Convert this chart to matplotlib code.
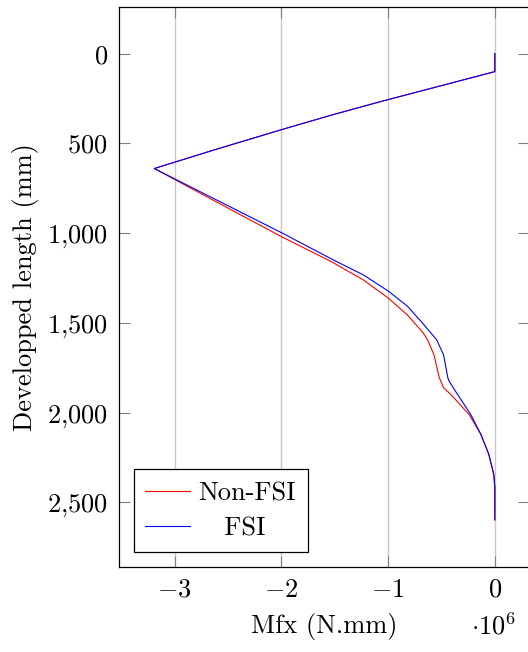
import matplotlib
matplotlib.use('Agg')
import matplotlib.pyplot as plt
from matplotlib.ticker import FixedLocator, FixedFormatter

plt.rcParams['font.family'] = 'serif'
plt.rcParams['font.serif'] = ['cmr10']
plt.rcParams['mathtext.fontset'] = 'cm'
plt.rcParams['axes.unicode_minus'] = False

# Mfx (x 1e6 N.mm) against developped length (mm)
nonfsi_x = [0, 0, -1.07, -1.54, -1.99, -2.6, -3.19, -2.29, -1.99, -1.54, -1.23, -1.0,
            -0.82, -0.67, -0.63, -0.57, -0.52, -0.48, -0.41, -0.24, -0.13, -0.056,
            -0.01, 0, 0]
nonfsi_y = [0, 100, 267, 344, 422, 531, 640, 927, 1022, 1156, 1261, 1361,
            1455, 1556, 1594, 1678, 1806, 1861, 1900, 2011, 2122, 2233,
            2344, 2417, 2600]

fsi_x = [0, 0, -1.07, -1.54, -1.99, -2.6, -3.19, -2.29, -1.99, -1.51, -1.23, -1.0,
         -0.82, -0.67, -0.545, -0.48, -0.44, -0.43, -0.39, -0.225, -0.13, -0.056,
         -0.01, 0, 0]
fsi_y = [0, 100, 267, 344, 422, 531, 640, 910, 1000, 1150, 1233, 1322,
         1406, 1506, 1594, 1678, 1806, 1822, 1861, 2011, 2122, 2233,
         2344, 2417, 2594]

xticks = [-3, -2, -1, 0]
xlabels = ['$-3$', '$-2$', '$-1$', '$0$']
yticks = [0, 500, 1000, 1500, 2000, 2500]
ylabels = ['$0$', '$500$', '$1{,}000$', '$1{,}500$', '$2{,}000$', '$2{,}500$']

fig = plt.figure(figsize=(5.28, 6.52), dpi=100)
ax = fig.add_axes([119 / 528, 1 - 567 / 652, 410 / 528, 560 / 652])

ax.plot(nonfsi_x, nonfsi_y, color='red', lw=0.8, label='Non-FSI')
ax.plot(fsi_x, fsi_y, color='blue', lw=0.8, label='   FSI')

ax.set_xlim(-3.52, 0.32)
ax.set_ylim(2860, -260)

ax.xaxis.set_major_locator(FixedLocator(xticks))
ax.xaxis.set_major_formatter(FixedFormatter(xlabels))
ax.yaxis.set_major_locator(FixedLocator(yticks))
ax.yaxis.set_major_formatter(FixedFormatter(ylabels))

ax.grid(axis='x', color='#c8c8c8', lw=1)
ax.tick_params(direction='in', length=8, width=0.8, color='#808080',
               top=True, right=True, labelsize=19, pad=8)
for s in ax.spines.values():
    s.set_linewidth(0.9)

ax.set_xlabel('Mfx (N.mm)', fontsize=19, labelpad=8)
ax.set_ylabel('Developped length (mm)', fontsize=19, labelpad=6)
fig.text(494 / 528, 1 - 626 / 652, r'$\cdot 10^6$', fontsize=19, ha='center', va='center')

leg = ax.legend(loc='lower left', fontsize=19, frameon=True, fancybox=False,
                edgecolor='black', framealpha=1, handlelength=1.7,
                borderpad=0.45, labelspacing=0.45, handletextpad=0.3,
                borderaxespad=0.55)
leg.get_frame().set_linewidth(0.9)

fig.savefig('out.png', dpi=100)
